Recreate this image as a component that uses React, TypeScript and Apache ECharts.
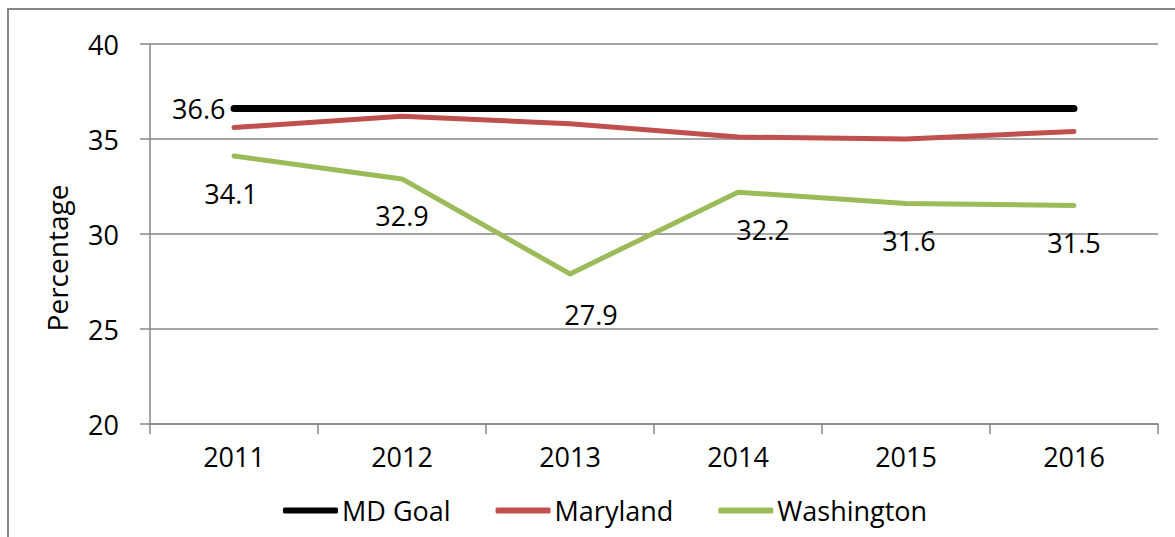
import React, { useEffect, useRef } from "react";
import * as echarts from "echarts";

const years = ["2011", "2012", "2013", "2014", "2015", "2016"];
const mdGoal = [36.6, 36.6, 36.6, 36.6, 36.6, 36.6];
const maryland = [35.6, 36.2, 35.8, 35.1, 35.0, 35.4];
const washington = [34.1, 32.9, 27.9, 32.2, 31.6, 31.5];
const washingtonLabelOffsets: number[][] = [[-3, 0], [0, 0], [21, 4], [25, 0], [3, 0], [0, 0]];

const FONT = "Open Sans";
const FS = 27;
const GRAY = "#878787";

export default function App() {
  const ref = useRef<HTMLDivElement>(null);
  useEffect(() => {
    if (!ref.current) return;
    const chart = echarts.init(ref.current, null, { renderer: "svg" });
    chart.setOption({
      animation: false,
      backgroundColor: "#ffffff",
      grid: { left: 150, right: 17, top: 44, bottom: 113 },
      xAxis: {
        type: "category",
        data: years,
        boundaryGap: true,
        axisLine: { lineStyle: { color: GRAY, width: 1.5 } },
        axisTick: { show: true, length: 10, lineStyle: { color: GRAY, width: 1.5 } },
        axisLabel: { color: "#000", fontFamily: FONT, fontSize: FS, margin: 19 },
        splitLine: { show: false },
      },
      yAxis: {
        type: "value",
        min: 20,
        max: 40,
        interval: 5,
        axisLine: { show: true, lineStyle: { color: GRAY, width: 1.5 } },
        axisTick: { show: true, length: 10, lineStyle: { color: GRAY, width: 1.5 } },
        axisLabel: { color: "#000", fontFamily: FONT, fontSize: FS, margin: 31 },
        splitLine: { show: true, lineStyle: { color: GRAY, width: 1.5 } },
      },
      legend: {
        left: 278,
        top: 492,
        itemWidth: 55,
        itemHeight: 6,
        itemGap: 45,
        icon: "roundRect",
        textStyle: { color: "#000", fontFamily: FONT, fontSize: FS, padding: [0, 0, 0, -1] },
        data: ["MD Goal", "Maryland", "Washington"],
      },
      graphic: [
        {
          type: "rect",
          shape: { x: 8, y: 9, width: 1250, height: 700 },
          style: { fill: "none", stroke: GRAY, lineWidth: 2 },
          silent: true,
        },
        {
          type: "text",
          x: 57,
          y: 258,
          rotation: Math.PI / 2,
          style: {
            text: "Percentage",
            fill: "#000",
            font: `28px "${FONT}"`,
            align: "center",
            verticalAlign: "middle",
          },
        },
      ],
      series: [
        {
          name: "MD Goal",
          type: "line",
          data: mdGoal.map((v, i) =>
            i === 0
              ? { value: v, label: { show: true, position: "left", distance: 8 } }
              : { value: v }
          ),
          symbol: "circle",
          symbolSize: 1,
          showSymbol: true,
          itemStyle: { color: "#000000" },
          lineStyle: { color: "#000000", width: 7, cap: "round" },
          label: { show: false, color: "#000", fontFamily: FONT, fontSize: FS, formatter: "{c}" },
          z: 3,
        },
        {
          name: "Maryland",
          type: "line",
          data: maryland,
          symbol: "none",
          itemStyle: { color: "#C0504D" },
          lineStyle: { color: "#C0504D", width: 5, cap: "round", join: "round" },
          z: 2,
        },
        {
          name: "Washington",
          type: "line",
          data: washington.map((v, i) => ({
            value: v,
            label: { offset: washingtonLabelOffsets[i] },
          })),
          symbol: "circle",
          symbolSize: 1,
          showSymbol: true,
          itemStyle: { color: "#9BBB59" },
          lineStyle: { color: "#9BBB59", width: 5, cap: "round", join: "round" },
          label: {
            show: true,
            position: "bottom",
            distance: 23,
            color: "#000",
            fontFamily: FONT,
            fontSize: FS,
            formatter: (p: any) => Number(p.value).toFixed(1),
          },
          z: 2,
        },
      ],
    });
    return () => chart.dispose();
  }, []);
  return (
    <div
      ref={ref}
      style={{ position: "absolute", left: 0, top: 0, width: 1175, height: 537 }}
    />
  );
}
